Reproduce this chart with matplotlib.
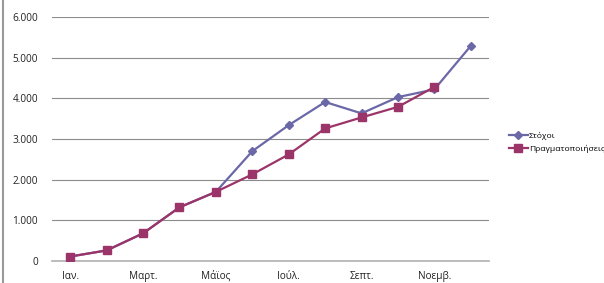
import matplotlib.pyplot as plt
from matplotlib.ticker import FuncFormatter

months = ['Ιαν.', 'Φεβρ.', 'Μαρτ.', 'Απρ.', 'Μάϊος', 'Ιούν.',
          'Ιούλ.', 'Αύγ.', 'Σεπτ.', 'Οκτ.', 'Νοεμβ.', 'Δεκ.']
targets = [110, 260, 680, 1320, 1700, 2700, 3340, 3910, 3630, 4030, 4220, 5290]
actual = [110, 260, 680, 1320, 1700, 2130, 2620, 3260, 3530, 3790, 4280]

c_target = '#6B68A8'
c_actual = '#9B3468'

plt.rcParams['font.family'] = ['Open Sans', 'DejaVu Sans']

fig = plt.figure(figsize=(6.04, 2.83), dpi=100)
ax = fig.add_axes([52/604, 1-261/283, 437/604, 244/283])

x = list(range(len(months)))
ax.plot(x, targets, color=c_target, lw=1.6, marker='D', ms=4.5,
        label='Στόχοι', zorder=3)
ax.plot(x[:len(actual)], actual, color=c_actual, lw=1.6, marker='s', ms=6,
        label='Πραγματοποιήσεις', zorder=4)

ax.set_xlim(-0.5, 11.5)
ax.set_ylim(0, 6000)
ax.set_yticks(range(0, 6001, 1000))
ax.yaxis.set_major_formatter(FuncFormatter(lambda v, p: f'{int(v):,}'.replace(',', '.')))
ax.set_xticks(x[::2])
ax.set_xticklabels(months[::2])
ax.tick_params(length=0, labelsize=7.2, colors='#222222')
ax.tick_params(axis='y', pad=10)
ax.tick_params(axis='x', pad=7)
ax.grid(axis='y', color='#8c8c8c', lw=0.8)
ax.set_axisbelow(True)
for s in ['top', 'right', 'left']:
    ax.spines[s].set_visible(False)
ax.spines['bottom'].set_color('#b0b0b0')
ax.spines['bottom'].set_linewidth(1.2)

fig.legend(loc='upper left', bbox_to_anchor=(509/604, 1-132/283), frameon=False,
           fontsize=6.1, handlelength=2.2, handletextpad=0.15, labelspacing=0.6,
           borderaxespad=0, borderpad=0)

fig.add_artist(plt.Line2D([3/604, 3/604], [0, 1], color='#999999', lw=1.5))

fig.savefig('out.png', dpi=100)
